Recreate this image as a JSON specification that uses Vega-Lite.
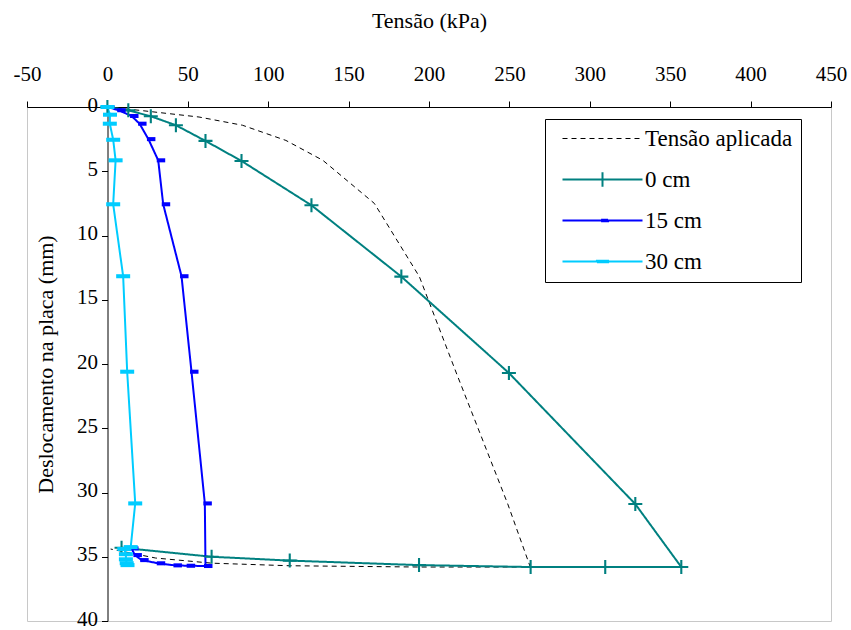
{
  "$schema": "https://vega.github.io/schema/vega-lite/v6.json",
  "width": 804,
  "height": 514,
  "autosize": {"type": "none"},
  "padding": {"left": 27, "top": 107, "right": 20, "bottom": 9},
  "background": "white",
  "config": {"view": {"stroke": "#c8c8c8"}, "font": "Liberation Serif"},
  "data": {"values": [
    {"serie": "Tensão aplicada", "ordem": 1, "tensao": 0, "desloc": 0},
    {"serie": "Tensão aplicada", "ordem": 2, "tensao": 20, "desloc": 0.26},
    {"serie": "Tensão aplicada", "ordem": 3, "tensao": 57, "desloc": 0.78},
    {"serie": "Tensão aplicada", "ordem": 4, "tensao": 84, "desloc": 1.42},
    {"serie": "Tensão aplicada", "ordem": 5, "tensao": 111, "desloc": 2.6},
    {"serie": "Tensão aplicada", "ordem": 6, "tensao": 134, "desloc": 4.15},
    {"serie": "Tensão aplicada", "ordem": 7, "tensao": 166, "desloc": 7.5},
    {"serie": "Tensão aplicada", "ordem": 8, "tensao": 194, "desloc": 13.2},
    {"serie": "Tensão aplicada", "ordem": 9, "tensao": 217, "desloc": 20.7},
    {"serie": "Tensão aplicada", "ordem": 10, "tensao": 249, "desloc": 30.9},
    {"serie": "Tensão aplicada", "ordem": 11, "tensao": 263, "desloc": 35.8},
    {"serie": "Tensão aplicada", "ordem": 12, "tensao": 194, "desloc": 35.8},
    {"serie": "Tensão aplicada", "ordem": 13, "tensao": 113, "desloc": 35.7},
    {"serie": "Tensão aplicada", "ordem": 14, "tensao": 65, "desloc": 35.5},
    {"serie": "Tensão aplicada", "ordem": 15, "tensao": 30, "desloc": 35.1},
    {"serie": "Tensão aplicada", "ordem": 16, "tensao": 2, "desloc": 34.4},
    {"serie": "0 cm", "ordem": 1, "tensao": 0, "desloc": 0},
    {"serie": "0 cm", "ordem": 2, "tensao": 13, "desloc": 0.26},
    {"serie": "0 cm", "ordem": 3, "tensao": 27, "desloc": 0.72},
    {"serie": "0 cm", "ordem": 4, "tensao": 42.6, "desloc": 1.42},
    {"serie": "0 cm", "ordem": 5, "tensao": 61, "desloc": 2.64},
    {"serie": "0 cm", "ordem": 6, "tensao": 83.4, "desloc": 4.2},
    {"serie": "0 cm", "ordem": 7, "tensao": 126.9, "desloc": 7.65},
    {"serie": "0 cm", "ordem": 8, "tensao": 182.8, "desloc": 13.2},
    {"serie": "0 cm", "ordem": 9, "tensao": 249.7, "desloc": 20.7},
    {"serie": "0 cm", "ordem": 10, "tensao": 328.3, "desloc": 30.9},
    {"serie": "0 cm", "ordem": 11, "tensao": 356.9, "desloc": 35.8},
    {"serie": "0 cm", "ordem": 12, "tensao": 309.6, "desloc": 35.8},
    {"serie": "0 cm", "ordem": 13, "tensao": 263.2, "desloc": 35.8},
    {"serie": "0 cm", "ordem": 14, "tensao": 193.8, "desloc": 35.65},
    {"serie": "0 cm", "ordem": 15, "tensao": 113.4, "desloc": 35.3},
    {"serie": "0 cm", "ordem": 16, "tensao": 64.8, "desloc": 35.0},
    {"serie": "0 cm", "ordem": 17, "tensao": 8.8, "desloc": 34.3},
    {"serie": "15 cm", "ordem": 1, "tensao": 0, "desloc": 0},
    {"serie": "15 cm", "ordem": 2, "tensao": 7, "desloc": 0.25},
    {"serie": "15 cm", "ordem": 3, "tensao": 15, "desloc": 0.7},
    {"serie": "15 cm", "ordem": 4, "tensao": 20, "desloc": 1.3},
    {"serie": "15 cm", "ordem": 5, "tensao": 25.5, "desloc": 2.5},
    {"serie": "15 cm", "ordem": 6, "tensao": 31.6, "desloc": 4.15},
    {"serie": "15 cm", "ordem": 7, "tensao": 34.7, "desloc": 7.57},
    {"serie": "15 cm", "ordem": 8, "tensao": 46.1, "desloc": 13.17},
    {"serie": "15 cm", "ordem": 9, "tensao": 52.3, "desloc": 20.6},
    {"serie": "15 cm", "ordem": 10, "tensao": 60.6, "desloc": 30.85},
    {"serie": "15 cm", "ordem": 11, "tensao": 61, "desloc": 35.72},
    {"serie": "15 cm", "ordem": 12, "tensao": 50.2, "desloc": 35.7},
    {"serie": "15 cm", "ordem": 13, "tensao": 42, "desloc": 35.67},
    {"serie": "15 cm", "ordem": 14, "tensao": 31.6, "desloc": 35.51},
    {"serie": "15 cm", "ordem": 15, "tensao": 21.3, "desloc": 35.26},
    {"serie": "15 cm", "ordem": 16, "tensao": 17.1, "desloc": 34.87},
    {"serie": "15 cm", "ordem": 17, "tensao": 15, "desloc": 34.35},
    {"serie": "30 cm", "ordem": 1, "tensao": 0, "desloc": 0},
    {"serie": "30 cm", "ordem": 2, "tensao": 1.6, "desloc": 0.6},
    {"serie": "30 cm", "ordem": 3, "tensao": 1.5, "desloc": 1.3},
    {"serie": "30 cm", "ordem": 4, "tensao": 3.6, "desloc": 2.55},
    {"serie": "30 cm", "ordem": 5, "tensao": 5.1, "desloc": 4.15},
    {"serie": "30 cm", "ordem": 6, "tensao": 3.6, "desloc": 7.57},
    {"serie": "30 cm", "ordem": 7, "tensao": 9.8, "desloc": 13.17},
    {"serie": "30 cm", "ordem": 8, "tensao": 12.3, "desloc": 20.6},
    {"serie": "30 cm", "ordem": 9, "tensao": 17.3, "desloc": 30.85},
    {"serie": "30 cm", "ordem": 10, "tensao": 14.5, "desloc": 34.25},
    {"serie": "30 cm", "ordem": 11, "tensao": 10.5, "desloc": 34.4},
    {"serie": "30 cm", "ordem": 12, "tensao": 11.5, "desloc": 34.8},
    {"serie": "30 cm", "ordem": 13, "tensao": 11.5, "desloc": 35.2},
    {"serie": "30 cm", "ordem": 14, "tensao": 12, "desloc": 35.5},
    {"serie": "30 cm", "ordem": 15, "tensao": 12.5, "desloc": 35.65}
  ]},
  "encoding": {
    "x": {
      "field": "tensao", "type": "quantitative",
      "scale": {"domain": [-50, 450], "nice": false, "zero": false},
      "axis": {
        "orient": "top", "title": "Tensão (kPa)",
        "values": [-50, 0, 50, 100, 150, 200, 250, 300, 350, 400, 450],
        "labelExpr": "'' + datum.value",
        "grid": false, "domainColor": "#000000", "tickColor": "#000000", "tickSize": 6,
        "labelPadding": 17, "labelFont": "Liberation Serif", "labelFontSize": 21, "labelColor": "#000000",
        "labelFlush": false, "labelOverlap": false,
        "titleFont": "Liberation Serif", "titleFontSize": 22, "titleFontWeight": "normal", "titleColor": "#000000",
        "titleY": -86.5, "titleBaseline": "middle"
      }
    },
    "y": {
      "field": "desloc", "type": "quantitative",
      "scale": {"domain": [0, 40], "reverse": true, "nice": false, "zero": false},
      "axis": {
        "orient": "left", "offset": -80.5, "title": "Deslocamento na placa (mm)",
        "values": [0, 5, 10, 15, 20, 25, 30, 35, 40],
        "grid": false, "domainColor": "#000000", "tickColor": "#000000", "tickSize": 6,
        "labelPadding": 4, "labelFont": "Liberation Serif", "labelFontSize": 21, "labelColor": "#000000",
        "labelFlush": false, "labelOverlap": false, "labelOffset": -2,
        "titleFont": "Liberation Serif", "titleFontSize": 22, "titleFontWeight": "normal", "titleColor": "#000000",
        "titleX": -62.5, "titleY": 257, "titleBaseline": "middle", "titleAngle": -90
      }
    }
  },
  "layer": [
    {
      "transform": [{"filter": "datum.serie === 'Tensão aplicada'"}],
      "mark": {"type": "line", "strokeWidth": 1},
      "encoding": {
        "order": {"field": "ordem", "type": "quantitative"},
        "color": {"field": "serie", "type": "nominal",
          "scale": {"domain": ["Tensão aplicada", "0 cm", "15 cm", "30 cm"], "range": ["#000000", "#008080", "#0000FF", "#00CCFF"]}},
        "strokeDash": {"field": "serie", "type": "nominal",
          "scale": {"domain": ["Tensão aplicada", "0 cm", "15 cm", "30 cm"], "range": [[5, 4], [1, 0], [1, 0], [1, 0]]}}
      }
    },
    {
      "transform": [{"filter": "datum.serie !== 'Tensão aplicada'"}],
      "mark": {"type": "line", "strokeWidth": 2},
      "encoding": {
        "order": {"field": "ordem", "type": "quantitative"},
        "color": {"field": "serie", "type": "nominal",
          "scale": {"domain": ["Tensão aplicada", "0 cm", "15 cm", "30 cm"], "range": ["#000000", "#008080", "#0000FF", "#00CCFF"]},
          "legend": {
            "title": null, "orient": "none", "legendX": 518, "legendY": 12,
            "padding": 8, "strokeColor": "#000000", "fillColor": "#ffffff",
            "symbolType": "stroke", "symbolSize": 6400, "symbolStrokeWidth": 2,
            "symbolOffset": 38, "labelOffset": 31, "rowPadding": 17,
            "labelFont": "Liberation Serif", "labelFontSize": 23, "labelColor": "#000000", "labelLimit": 300,
            "encoding": {"symbols": {
              "shape": {"value": {"expr": "datum.value === '0 cm' ? 'M-1,0H1M0,-0.18V0.18' : datum.value === '15 cm' ? 'M-1,0H1M-0.01,-0.02H0.14V0.02H-0.01Z' : datum.value === '30 cm' ? 'M-1,0H1M-0.14,-0.02H0.14V0.02H-0.14Z' : 'M-1,0H1'"}},
              "strokeWidth": {"value": {"expr": "datum.value === '0 cm' || datum.value === '15 cm' || datum.value === '30 cm' ? 2 : 1"}}
            }}
          }},
        "strokeDash": {"field": "serie", "type": "nominal",
          "scale": {"domain": ["Tensão aplicada", "0 cm", "15 cm", "30 cm"], "range": [[5, 4], [1, 0], [1, 0], [1, 0]]}}
      }
    },
    {
      "transform": [{"filter": "datum.serie === '0 cm'"}],
      "mark": {"type": "point", "filled": true, "opacity": 1, "size": 196, "strokeWidth": 0, "color": "#008080",
        "shape": "M-1,-0.15H1V0.15H-1Z M-0.15,-1H0.15V1H-0.15Z"},
      "encoding": {}
    },
    {
      "transform": [{"filter": "datum.serie === '15 cm'"}],
      "mark": {"type": "point", "filled": true, "opacity": 1, "size": 196, "strokeWidth": 0, "color": "#0000FF",
        "shape": "M-0.21,-0.29H1V0.29H-0.21Z"},
      "encoding": {}
    },
    {
      "transform": [{"filter": "datum.serie === '30 cm'"}],
      "mark": {"type": "point", "filled": true, "opacity": 1, "size": 196, "strokeWidth": 0, "color": "#00CCFF",
        "shape": "M-1,-0.29H1V0.29H-1Z"},
      "encoding": {}
    }
  ]
}
